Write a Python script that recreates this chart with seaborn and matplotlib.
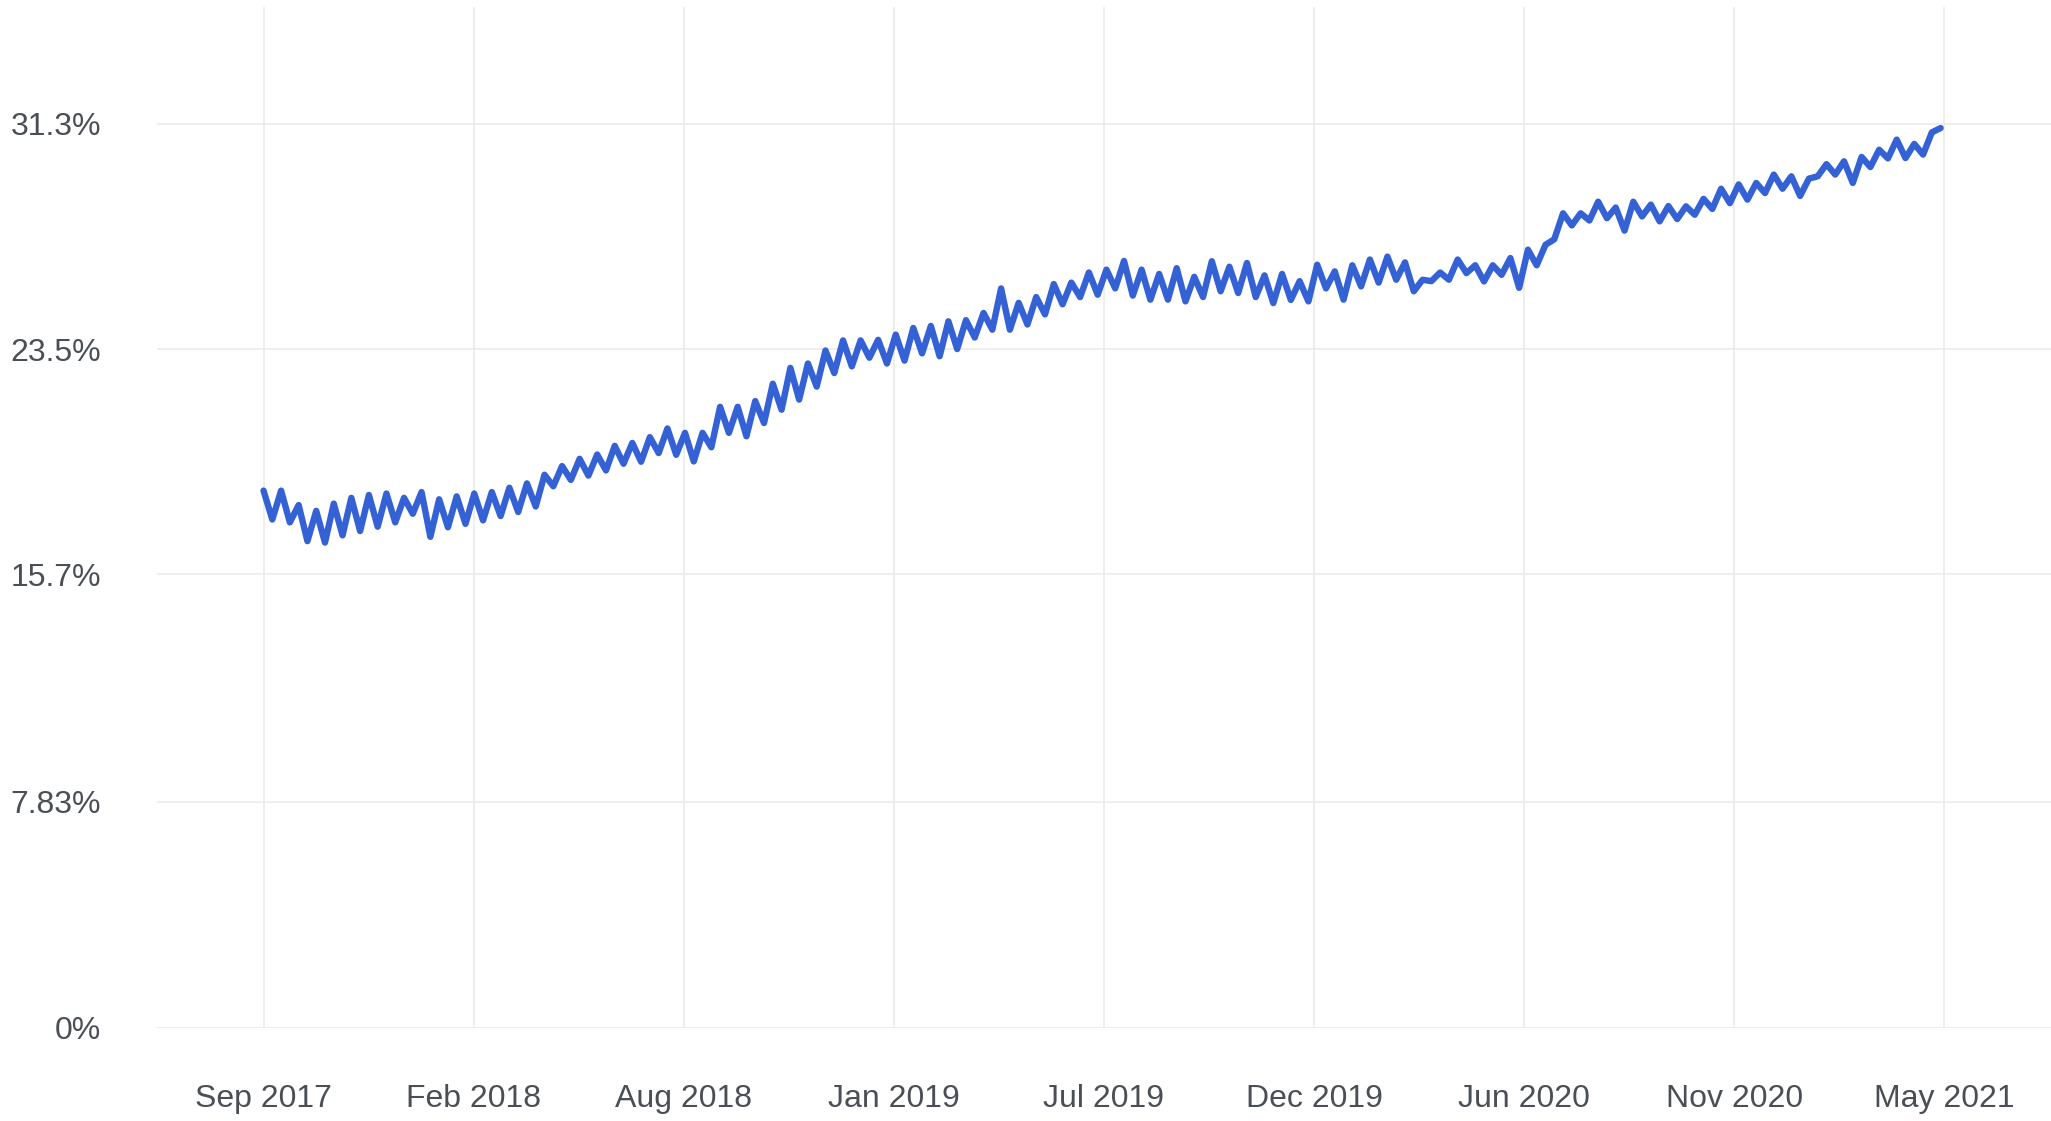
import numpy as np
import pandas as pd
import matplotlib
matplotlib.use("Agg")
import matplotlib.pyplot as plt
import matplotlib.dates as mdates
import seaborn as sns

START = pd.Timestamp("2017-09-05")
END = pd.Timestamp("2021-05-07")

# weekday peaks, one reading every 14 days from START (percent)
peak_pct = [
    18.6, 18.6, 18.1, 17.9, 18.15, 18.35, 18.45, 18.5, 18.35, 18.55,
    18.3, 18.4, 18.5, 18.55, 18.7, 18.85, 19.15, 19.45, 19.7, 19.85,
    20.15, 20.25, 20.45, 20.75, 20.6, 20.6, 21.5, 21.5, 21.7, 22.3,
    22.85, 23.0, 23.45, 23.8, 23.8, 23.82, 24.0, 24.23, 24.3, 24.46,
    24.5, 24.75, 25.6, 25.1, 25.3, 25.75, 25.8, 26.15, 26.25, 26.55,
    26.25, 26.1, 26.3, 26.0, 26.54, 26.35, 26.48, 26.05, 26.1, 25.85,
    26.42, 26.19, 26.4, 26.6, 26.7, 26.5, 25.9, 26.15, 26.6, 26.4,
    26.4, 26.65, 26.94, 27.11, 28.2, 28.2, 28.6, 28.4, 28.6, 28.5,
    28.45, 28.44, 28.7, 29.05, 29.2, 29.25, 29.54, 29.48, 29.4, 29.9,
    30.0, 30.15, 30.4, 30.75, 30.6, 31.0,
]

# weekend troughs, 7 days after each peak (percent)
trough_pct = [
    17.6, 17.5, 16.85, 16.8, 17.05, 17.2, 17.35, 17.5, 17.8, 17.0,
    17.33, 17.45, 17.57, 17.72, 17.86, 18.05, 18.75, 18.97, 19.12, 19.3,
    19.53, 19.6, 19.9, 19.84, 19.61, 20.1, 20.6, 20.48, 20.94, 21.4,
    21.75, 22.2, 22.67, 22.9, 23.2, 23.0, 23.1, 23.35, 23.25, 23.5,
    23.9, 24.17, 24.17, 24.35, 24.7, 25.05, 25.3, 25.38, 25.6, 25.35,
    25.21, 25.21, 25.15, 25.3, 25.5, 25.44, 25.3, 25.09, 25.2, 25.15,
    25.6, 25.21, 25.67, 25.8, 25.9, 25.5, 25.85, 25.9, 26.13, 25.84,
    26.07, 25.62, 26.4, 27.3, 27.78, 27.95, 28.03, 27.6, 28.09, 27.92,
    28.0, 28.15, 28.35, 28.55, 28.67, 28.9, 29.05, 28.8, 29.48, 29.54,
    29.25, 29.8, 30.1, 30.11, 30.23, 31.15,
]

y_ticks = [0, 7.83, 15.7, 23.5, 31.3]
y_tick_labels = ["0%", "7.83%", "15.7%", "23.5%", "31.3%"]
x_tick_labels = ["Sep 2017", "Feb 2018", "Aug 2018", "Jan 2019", "Jul 2019",
                 "Dec 2019", "Jun 2020", "Nov 2020", "May 2021"]


def build_frame():
    n = len(peak_pct)
    peaks = pd.DataFrame({
        "date": START + pd.to_timedelta(np.arange(n) * 14, unit="D"),
        "pct": peak_pct,
    })
    troughs = pd.DataFrame({
        "date": START + pd.to_timedelta(np.arange(n) * 14 + 7, unit="D"),
        "pct": trough_pct,
    })
    return pd.concat([peaks, troughs]).sort_values("date").reset_index(drop=True)


sns.set_theme(style="whitegrid")
plt.rcParams["font.family"] = ["Liberation Sans", "DejaVu Sans"]

df = build_frame()

fig = plt.figure(figsize=(20.51, 11.21), dpi=100)
ax = fig.add_axes([0.0765, 0.083, 0.9235, 0.911])

sns.lineplot(data=df, x="date", y="pct", color="#3461d4", linewidth=4.6,
             estimator=None, ax=ax)

x0 = mdates.date2num(START)
x1 = mdates.date2num(END)
ax.set_xticks(np.linspace(x0, x1, len(x_tick_labels)))
ax.set_xticklabels(x_tick_labels)
ax.set_xlim(x0 - 85, x1 + 85)

ax.set_yticks(y_ticks)
ax.set_yticklabels(y_tick_labels)
ax.set_ylim(0, 35.35)

ax.set_xlabel("")
ax.set_ylabel("")
for spine in ax.spines.values():
    spine.set_visible(False)
ax.grid(True, color="#ebebeb", linewidth=1.2)
ax.tick_params(axis="both", length=0, labelsize=23, colors="#4a4f56")
ax.tick_params(axis="x", pad=40)
ax.tick_params(axis="y", pad=40)

fig.savefig("out.png", dpi=100)
plt.close(fig)
